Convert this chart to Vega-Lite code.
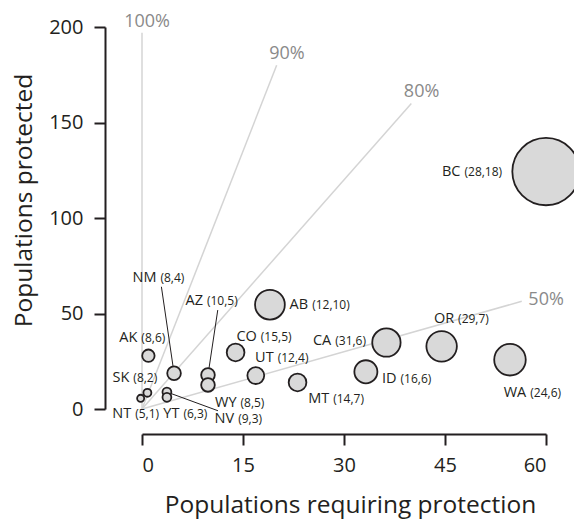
{
  "$schema": "https://vega.github.io/schema/vega-lite/v6.json",
  "width": 404,
  "height": 382,
  "autosize": {"type": "none"},
  "padding": {"left": 142, "top": 27, "right": 28, "bottom": 110},
  "background": "white",
  "config": {
    "view": {"stroke": null},
    "font": "Open Sans",
    "axis": {
      "grid": false,
      "domainColor": "#231f20",
      "domainWidth": 2,
      "tickColor": "#231f20",
      "tickWidth": 2,
      "tickSize": 11,
      "labelFont": "Open Sans",
      "labelFontSize": 20,
      "labelColor": "#231f20",
      "titleFont": "Open Sans",
      "titleFontSize": 24.5,
      "titleFontWeight": "normal",
      "titleColor": "#231f20"
    }
  },
  "datasets": {
    "guides": [
      {"pct": "100%", "x": 0, "y": 0, "x2": 0, "y2": 197},
      {"pct": "90%", "x": 0, "y": 0, "x2": 20, "y2": 180},
      {"pct": "80%", "x": 0, "y": 0, "x2": 40, "y2": 160},
      {"pct": "50%", "x": 0, "y": 0, "x2": 56.4, "y2": 56.4}
    ],
    "leaders": [
      {"code": "NM", "x": 4.76, "y": 18.7, "lx": 2.88, "ly": 64.0},
      {"code": "AZ", "x": 9.8, "y": 17.8, "lx": 11.25, "ly": 51.8},
      {"code": "NV", "x": 3.7, "y": 8.9, "lx": 11.28, "ly": -0.9}
    ],
    "regions": [
      {"code": "BC", "nums": "(28,18)", "x": 60, "y": 124.3, "bubble": 38, "lx": 47.6, "ly": 122.0},
      {"code": "AB", "nums": "(12,10)", "x": 19, "y": 54.6, "bubble": 16.8, "lx": 24.97, "ly": 52.2},
      {"code": "CA", "nums": "(31,6)", "x": 36.3, "y": 34.8, "bubble": 16, "lx": 28.4, "ly": 33.5},
      {"code": "OR", "nums": "(29,7)", "x": 44.5, "y": 32.8, "bubble": 17.2, "lx": 46.65, "ly": 45.2},
      {"code": "WA", "nums": "(24,6)", "x": 54.65, "y": 25.8, "bubble": 17.8, "lx": 57.37, "ly": 6.4},
      {"code": "ID", "nums": "(16,6)", "x": 33.25, "y": 19.5, "bubble": 13, "lx": 38.1, "ly": 13.5},
      {"code": "MT", "nums": "(14,7)", "x": 23.1, "y": 13.9, "bubble": 10, "lx": 28.1, "ly": 3.0},
      {"code": "CO", "nums": "(15,5)", "x": 13.9, "y": 29.6, "bubble": 10, "lx": 17.35, "ly": 35.6},
      {"code": "UT", "nums": "(12,4)", "x": 16.9, "y": 17.5, "bubble": 9.5, "lx": 19.85, "ly": 24.8},
      {"code": "AZ", "nums": "(10,5)", "x": 9.8, "y": 17.8, "bubble": 7.7, "lx": 9.35, "ly": 54.5},
      {"code": "WY", "nums": "(8,5)", "x": 9.8, "y": 12.6, "bubble": 7.7, "lx": 14.33, "ly": 1.2},
      {"code": "NM", "nums": "(8,4)", "x": 4.76, "y": 18.7, "bubble": 7.7, "lx": 2.44, "ly": 66.3},
      {"code": "AK", "nums": "(8,6)", "x": 0.95, "y": 27.9, "bubble": 7, "lx": -0.39, "ly": 35.2},
      {"code": "SK", "nums": "(8,2)", "x": 0.8, "y": 8.5, "bubble": 4.5, "lx": -1.58, "ly": 14.0},
      {"code": "NT", "nums": "(5,1)", "x": -0.2, "y": 5.6, "bubble": 4, "lx": -1.31, "ly": -4.87},
      {"code": "NV", "nums": "(9,3)", "x": 3.7, "y": 8.9, "bubble": 5, "lx": 13.98, "ly": -7.49},
      {"code": "YT", "nums": "(6,3)", "x": 3.7, "y": 6.1, "bubble": 5, "lx": 5.86, "ly": -4.87}
    ]
  },
  "layer": [
    {
      "data": {"name": "guides"},
      "mark": {"type": "rule", "color": "#d4d4d4", "strokeWidth": 1.5},
      "encoding": {
        "x": {"field": "x", "type": "quantitative", "scale": {"domain": [0, 60], "nice": false, "zero": false},
          "axis": {"title": "Populations requiring protection", "values": [0, 15, 30, 45, 60], "offset": 25, "labelPadding": 10, "titleX": 208, "titleY": 78, "titleBaseline": "alphabetic"}},
        "y": {"field": "y", "type": "quantitative", "scale": {"domain": [0, 200], "nice": false, "zero": false},
          "axis": {"title": "Populations protected", "values": [0, 50, 100, 150, 200], "offset": 37, "labelPadding": 11, "titleX": -74, "titleY": 173, "titleBaseline": "alphabetic"}},
        "x2": {"field": "x2"},
        "y2": {"field": "y2"}
      }
    },
    {
      "data": {"name": "guides"},
      "transform": [{"filter": "datum.pct != '50%'"}],
      "mark": {"type": "text", "align": "right", "baseline": "alphabetic", "dx": 28, "dy": -6, "fontSize": 18, "color": "#8a8a8a"},
      "encoding": {
        "x": {"field": "x2", "type": "quantitative"},
        "y": {"field": "y2", "type": "quantitative"},
        "text": {"field": "pct"}
      }
    },
    {
      "data": {"name": "guides"},
      "transform": [{"filter": "datum.pct == '50%'"}],
      "mark": {"type": "text", "align": "left", "baseline": "alphabetic", "dx": 6.6, "dy": 4, "fontSize": 18, "color": "#8a8a8a"},
      "encoding": {
        "x": {"field": "x2", "type": "quantitative"},
        "y": {"field": "y2", "type": "quantitative"},
        "text": {"field": "pct"}
      }
    },
    {
      "data": {"name": "leaders"},
      "mark": {"type": "rule", "color": "#231f20", "strokeWidth": 1},
      "encoding": {
        "x": {"field": "x", "type": "quantitative"},
        "y": {"field": "y", "type": "quantitative"},
        "x2": {"field": "lx"},
        "y2": {"field": "ly"}
      }
    },
    {
      "data": {"name": "regions"},
      "mark": {"type": "point", "shape": "circle", "filled": true, "fill": "#d9d9d9", "fillOpacity": 1, "stroke": "#231f20", "strokeWidth": 1.8, "opacity": 1},
      "encoding": {
        "x": {"field": "x", "type": "quantitative"},
        "y": {"field": "y", "type": "quantitative"},
        "size": {"field": "bubble", "type": "quantitative", "scale": {"type": "pow", "exponent": 2, "domain": [0, 40], "range": [0, 5026.5]}, "legend": null}
      }
    },
    {
      "data": {"name": "regions"},
      "mark": {"type": "text", "align": "right", "baseline": "alphabetic", "dx": -2, "fontSize": 14.5, "color": "#231f20"},
      "encoding": {
        "x": {"field": "lx", "type": "quantitative"},
        "y": {"field": "ly", "type": "quantitative"},
        "text": {"field": "code"}
      }
    },
    {
      "data": {"name": "regions"},
      "mark": {"type": "text", "align": "left", "baseline": "alphabetic", "dx": 2, "fontSize": 12, "color": "#231f20"},
      "encoding": {
        "x": {"field": "lx", "type": "quantitative"},
        "y": {"field": "ly", "type": "quantitative"},
        "text": {"field": "nums"}
      }
    }
  ]
}
